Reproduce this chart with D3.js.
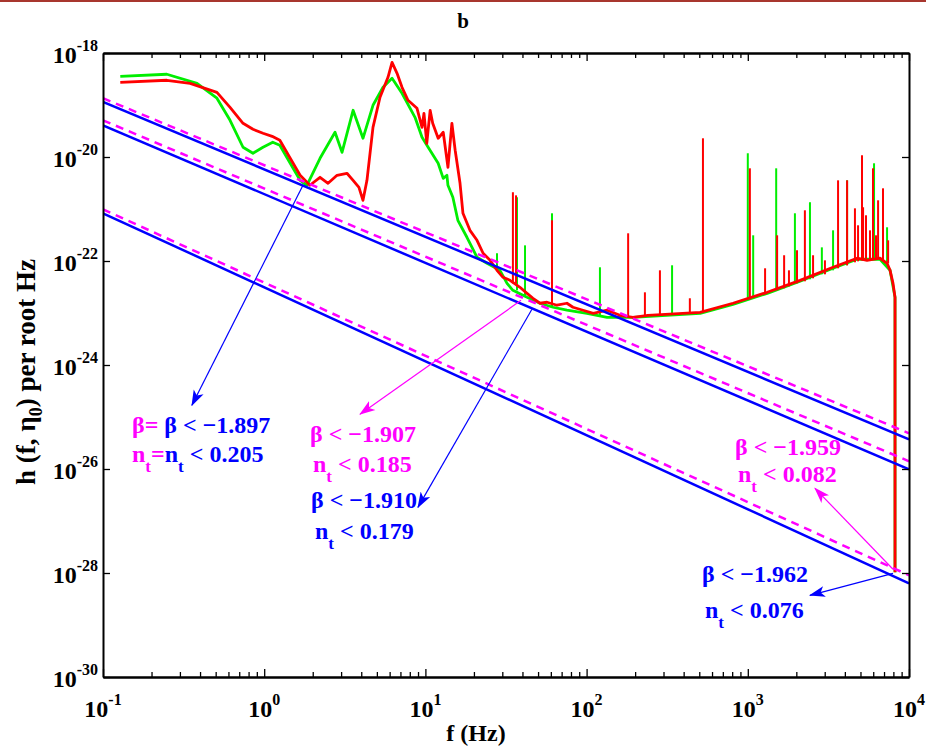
<!DOCTYPE html>
<html>
<head>
<meta charset="utf-8">
<script src="https://cdn.jsdelivr.net/npm/d3@7"></script>
<style>
  body { margin: 0; background: #fff; }
</style>
</head>
<body>
<div id="chart"></div>
<script>
// ---- data ----
var xTicks = [0.1, 1, 10, 100, 1000, 10000];
var xTickExp = ["-1", "0", "1", "2", "3", "4"];
var yTicks = [1e-18, 1e-20, 1e-22, 1e-24, 1e-26, 1e-28, 1e-30];
var yTickExp = ["-18", "-20", "-22", "-24", "-26", "-28", "-30"];

// bounds of the straight lines, f = 0.1 .. 1e4
var lineF = [0.1, 1e4];
var blueLines = [[1.15e-19, 3.72e-26], [4.07e-20, 9.87e-27], [8.26e-22, 6.34e-29]];
var magentaLines = [[1.35e-19, 4.87e-26], [5.08e-20, 1.41e-26], [9.86e-22, 9.03e-29]];

// noise curves [f, h]
var greenCurve = [
  [0.128, 3.56e-19], [0.249, 3.9e-19], [0.383, 2.61e-19], [0.509, 1.35e-19], [0.614, 5.08e-20],
  [0.739, 1.54e-20], [0.852, 1.18e-20], [0.983, 1.54e-20], [1.13, 1.92e-20], [1.25, 1.68e-20],
  [1.45, 7.57e-21], [1.67, 3.56e-21], [1.84, 2.86e-21], [2.22, 9.44e-21], [2.75, 2.99e-20],
  [3.04, 1.23e-20], [3.56, 7.91e-20], [4.10, 2.29e-20], [4.73, 9.87e-20], [5.46, 2.19e-19],
  [6.21, 3.26e-19], [7.16, 1.68e-19], [8.62, 5.80e-20], [9.53, 2.39e-20], [10.4, 1.54e-20],
  [12.0, 7.57e-21], [12.9, 3.89e-21], [13.6, 4.45e-21], [13.8, 2.86e-21], [14.8, 1.68e-21],
  [15.9, 6.06e-22], [18.1, 2.86e-22], [20.9, 1.18e-22], [24.1, 9.03e-23], [29.0, 6.62e-23],
  [32.1, 3.72e-23], [34.9, 2.73e-23], [42.7, 2.0e-23], [51.4, 1.54e-23], [61.9, 1.29e-23],
  [75.5, 1.13e-23], [100.5, 9.87e-24], [134, 8.27e-24], [194, 8.27e-24], [506, 9.87e-24],
  [809, 1.47e-23], [1320, 2.39e-23], [2110, 4.07e-23], [3380, 7.24e-23], [4760, 1.08e-22],
  [6610, 1.08e-22], [7630, 6.62e-23], [8190, 2.0e-23], [8190, 1.03e-28]
];
var redCurve = [
  [0.128, 2.73e-19], [0.249, 2.99e-19], [0.347, 2.61e-19], [0.509, 1.75e-19], [0.614, 9.03e-20],
  [0.739, 4.45e-20], [0.852, 3.41e-20], [0.983, 2.86e-20], [1.12, 2.50e-20], [1.25, 2.10e-20],
  [1.45, 9.44e-21], [1.67, 4.45e-21], [1.92, 2.86e-21], [2.22, 4.07e-21], [2.49, 3.12e-21],
  [2.83, 4.45e-21], [3.26, 4.86e-21], [3.56, 3.56e-21], [3.87, 2.61e-21], [4.10, 1.47e-21],
  [4.34, 3.56e-21], [4.73, 3.72e-20], [5.23, 1.41e-19], [5.86, 3.41e-19], [6.21, 6.62e-19],
  [6.67, 4.07e-19], [7.16, 2.19e-19], [7.80, 1.23e-19], [8.87, 8.64e-20], [9.53, 3.72e-20],
  [9.80, 6.92e-20], [10.2, 1.83e-20], [10.7, 7.91e-20], [11.1, 4.45e-20], [12.0, 2.29e-20],
  [12.9, 2.99e-20], [13.8, 6.34e-21], [14.6, 4.45e-20], [15.3, 1.35e-20], [16.4, 3.12e-21],
  [17.1, 8.27e-22], [18.9, 3.89e-22], [20.9, 2.50e-22], [22.8, 1.41e-22], [25.2, 1.03e-22],
  [27.8, 6.62e-23], [30.3, 4.86e-23], [33.5, 4.25e-23], [38.6, 3.12e-23], [42.7, 2.39e-23],
  [46.5, 1.92e-23], [51.4, 1.54e-23], [56.8, 1.61e-23], [65.5, 1.41e-23], [75.5, 1.54e-23],
  [82.3, 1.29e-23], [95.0, 1.13e-23], [110, 9.87e-24], [134, 1.13e-23], [161, 9.03e-24],
  [194, 8.27e-24], [240, 9.03e-24], [506, 1.03e-23], [809, 1.54e-23], [1320, 2.50e-23],
  [2110, 4.25e-23], [3380, 7.57e-23], [4760, 1.13e-22], [5490, 1.03e-22], [6610, 1.13e-22],
  [7310, 9.03e-23], [7630, 6.62e-23], [7960, 3.72e-23], [8190, 2.0e-23], [8190, 1.03e-28]
];
// narrow lines [f, top, base]
var greenSpikes = [
  [27.8, 1.41e-22, 6.62e-23], [37.0, 1.68e-21, 2.73e-23], [41.5, 2.0e-22, 2.19e-23],
  [61.0, 8.27e-22, 1.29e-23], [121, 7.57e-23, 9.03e-24], [339, 8.27e-23, 9.44e-24],
  [1000, 1.18e-20, 1.83e-23], [1080, 3.12e-22, 1.92e-23], [1500, 6.06e-21, 2.73e-23],
  [1960, 8.27e-22, 3.72e-23], [2430, 1.35e-21, 4.45e-23], [2880, 1.83e-22, 5.55e-23],
  [3380, 3.89e-22, 6.62e-23], [4130, 3.56e-21, 8.27e-23], [6070, 7.57e-21, 1.13e-22],
  [7310, 4.45e-22, 9.03e-23]
];
var redSpikes = [
  [34.9, 2.10e-21, 3.72e-23], [36.5, 1.83e-21, 3.72e-23], [61.0, 6.06e-22, 1.47e-23],
  [181, 3.41e-22, 8.64e-24], [230, 2.5e-23, 9.03e-24], [285, 6.62e-23, 9.03e-24],
  [437, 1.92e-23, 1.03e-23], [527, 2.29e-20, 1.03e-23], [1030, 6.06e-21, 1.83e-23],
  [1280, 7.24e-23, 2.29e-23], [1520, 3.12e-22, 2.73e-23], [1680, 1.29e-22, 2.99e-23],
  [1800, 6.62e-23, 3.26e-23], [2020, 1.61e-22, 3.72e-23], [2260, 9.44e-22, 4.07e-23],
  [2540, 1.29e-22, 4.65e-23], [3010, 1.03e-22, 5.55e-23], [3630, 3.56e-21, 7.24e-23],
  [4130, 3.56e-21, 8.27e-23], [4620, 1.03e-21, 9.44e-23], [4830, 4.86e-22, 9.87e-23],
  [5110, 1.08e-20, 1.03e-22], [5190, 1.08e-21, 1.03e-22], [5410, 7.57e-22, 1.03e-22],
  [5730, 3.89e-22, 1.08e-22], [5980, 6.06e-21, 1.13e-22], [6240, 3.12e-22, 1.13e-22],
  [6430, 1.47e-21, 1.13e-22], [6900, 2.50e-21, 1.03e-22], [7420, 2.50e-22, 9.03e-23]
];

// annotation arrows [fStart, hStart, fEnd, hEnd]
var blueArrows = [[1.74, 2.86e-21, 0.356, 1.68e-25], [45.8, 1.18e-23, 8.99, 1.83e-27], [7960, 9.87e-29, 2430, 3.72e-29]];
var magentaArrows = [[39.2, 1.75e-23, 3.93, 1.13e-25], [7960, 1.18e-28, 2610, 4.25e-27]];

var margin = {top: 53, right: 17, bottom: 69, left: 103},
  W = 926, H = 746,
  width = W - margin.left - margin.right,
  height = H - margin.top - margin.bottom;

var BLUE = "#0000ff", MAG = "#ff00ff", RED = "#ff0000", GREEN = "#00ee00";
var FONT = "'Liberation Serif', 'Times New Roman', serif";

var svg = d3.select("#chart").append("svg")
  .attr("width", W).attr("height", H)
  .attr("font-family", FONT).attr("font-weight", "bold");

// thin rule across the top of the page
svg.append("rect").attr("x", 0).attr("y", 0).attr("width", W).attr("height", 2).attr("fill", "#a8362e");

var defs = svg.append("defs");
defs.append("clipPath").attr("id", "clip")
  .append("rect").attr("width", width).attr("height", height);
[["arrBlue", BLUE], ["arrMag", MAG]].forEach(function (m) {
  defs.append("marker").attr("id", m[0])
    .attr("viewBox", "0 -6 16 12").attr("refX", 15).attr("refY", 0)
    .attr("markerUnits", "userSpaceOnUse").attr("markerWidth", 16).attr("markerHeight", 12)
    .attr("orient", "auto")
    .append("path").attr("d", "M0,-5.5L16,0L0,5.5L4,0Z").attr("fill", m[1]);
});

var g = svg.append("g").attr("transform", "translate(" + margin.left + "," + margin.top + ")");

var x = d3.scaleLog().domain([0.1, 1e4]).range([0, width]);
var y = d3.scaleLog().domain([1e-30, 1e-18]).range([height, 0]);

var line = d3.line().x(function (d) { return x(d[0]); }).y(function (d) { return y(d[1]); });

var plot = g.append("g").attr("clip-path", "url(#clip)");

// noise curves
function drawNoise(curve, spikes, color) {
  plot.append("path").datum(curve)
    .attr("d", line).attr("fill", "none")
    .attr("stroke", color).attr("stroke-width", 2.8).attr("stroke-linejoin", "round");
  plot.selectAll(null).data(spikes).enter().append("line")
    .attr("x1", function (d) { return x(d[0]); }).attr("x2", function (d) { return x(d[0]); })
    .attr("y1", function (d) { return y(d[2]); }).attr("y2", function (d) { return y(d[1]); })
    .attr("stroke", color).attr("stroke-width", 2);
}
drawNoise(greenCurve, greenSpikes, GREEN);
drawNoise(redCurve, redSpikes, RED);

// straight power-law lines
magentaLines.forEach(function (h) {
  plot.append("path").datum([[lineF[0], h[0]], [lineF[1], h[1]]])
    .attr("d", line).attr("fill", "none")
    .attr("stroke", MAG).attr("stroke-width", 2.5).attr("stroke-dasharray", "8,6");
});
blueLines.forEach(function (h) {
  plot.append("path").datum([[lineF[0], h[0]], [lineF[1], h[1]]])
    .attr("d", line).attr("fill", "none")
    .attr("stroke", BLUE).attr("stroke-width", 2.5);
});

// arrows
function drawArrows(list, color, marker) {
  g.selectAll(null).data(list).enter().append("line")
    .attr("x1", function (d) { return x(d[0]); }).attr("y1", function (d) { return y(d[1]); })
    .attr("x2", function (d) { return x(d[2]); }).attr("y2", function (d) { return y(d[3]); })
    .attr("stroke", color).attr("stroke-width", 1.2)
    .attr("marker-end", "url(#" + marker + ")");
}
drawArrows(blueArrows, BLUE, "arrBlue");
drawArrows(magentaArrows, MAG, "arrMag");

// axes with inward ticks on all four sides
function styleAxis(sel) {
  sel.select(".domain").attr("stroke", "#000").attr("stroke-width", 2);
  sel.selectAll(".tick line").attr("stroke", "#000").attr("stroke-width", 1.3);
  sel.selectAll(".tick text").remove();
}
var minorX = x.ticks().filter(function (v) { return xTicks.indexOf(v) < 0; });

g.append("g").attr("transform", "translate(0," + height + ")")
  .call(d3.axisBottom(x).tickValues(xTicks).tickSize(-8).tickSizeOuter(0)).call(styleAxis);
g.append("g").attr("transform", "translate(0," + height + ")")
  .call(d3.axisBottom(x).tickValues(minorX).tickSize(-5).tickSizeOuter(0)).call(styleAxis);
g.append("g")
  .call(d3.axisTop(x).tickValues(xTicks).tickSize(-8).tickSizeOuter(0)).call(styleAxis);
g.append("g")
  .call(d3.axisTop(x).tickValues(minorX).tickSize(-5).tickSizeOuter(0)).call(styleAxis);
g.append("g")
  .call(d3.axisLeft(y).tickValues(yTicks).tickSize(-7).tickSizeOuter(0)).call(styleAxis);
g.append("g").attr("transform", "translate(" + width + ",0)")
  .call(d3.axisRight(y).tickValues(yTicks).tickSize(-7).tickSizeOuter(0)).call(styleAxis);

// tick labels as 10^n
g.selectAll(null).data(xTicks).enter().append("text")
  .attr("x", function (d) { return x(d); }).attr("y", height + 40)
  .attr("text-anchor", "middle").attr("font-size", 24)
  .each(function (d, i) {
    var t = d3.select(this);
    t.append("tspan").text("10");
    t.append("tspan").attr("dy", -12).attr("font-size", 16).text(xTickExp[i]);
  });
g.selectAll(null).data(yTicks).enter().append("text")
  .attr("x", -5).attr("y", function (d) { return y(d) + 10; })
  .attr("text-anchor", "end").attr("font-size", 24)
  .each(function (d, i) {
    var t = d3.select(this);
    t.append("tspan").text("10");
    t.append("tspan").attr("dy", -12).attr("font-size", 16).text(yTickExp[i]);
  });

// titles
svg.append("text").attr("x", 463).attr("y", 28).attr("text-anchor", "middle")
  .attr("font-size", 21).text("b");
svg.append("text").attr("x", 476).attr("y", 741).attr("text-anchor", "middle")
  .attr("font-size", 24).text("f (Hz)");
var yl = svg.append("text")
  .attr("transform", "translate(35," + 372 + ") rotate(-90)")
  .attr("text-anchor", "middle").attr("font-size", 27);
yl.append("tspan").text("h (f, η");
yl.append("tspan").attr("dy", 7).attr("font-size", 18).text("0");
yl.append("tspan").attr("dy", -7).text(") per root Hz");

// annotation labels: parts of [text, color, isSubscript]
function label(px, py, parts) {
  var t = svg.append("text").attr("x", px).attr("y", py).attr("font-size", 24);
  var down = false;
  parts.forEach(function (p) {
    var s = t.append("tspan").attr("fill", p[1]).text(p[0]);
    if (p[2]) { s.attr("font-size", 17).attr("dy", 10); down = true; }
    else if (down) { s.attr("dy", -10); down = false; }
  });
}
label(132, 433, [["β=", MAG], [" β < −1.897", BLUE]]);
label(132, 462, [["n", MAG], ["t", MAG, true], ["=", MAG], ["n", BLUE], ["t", BLUE, true], [" < 0.205", BLUE]]);
label(310, 442, [["β < −1.907", MAG]]);
label(313, 472, [["n", MAG], ["t", MAG, true], [" < 0.185", MAG]]);
label(311, 508, [["β < −1.910", BLUE]]);
label(315, 539, [["n", BLUE], ["t", BLUE, true], [" < 0.179", BLUE]]);
label(735, 455, [["β < −1.959", MAG]]);
label(738, 482, [["n", MAG], ["t", MAG, true], [" < 0.082", MAG]]);
label(702, 582, [["β < −1.962", BLUE]]);
label(705, 618, [["n", BLUE], ["t", BLUE, true], [" < 0.076", BLUE]]);
</script>
</body>
</html>
